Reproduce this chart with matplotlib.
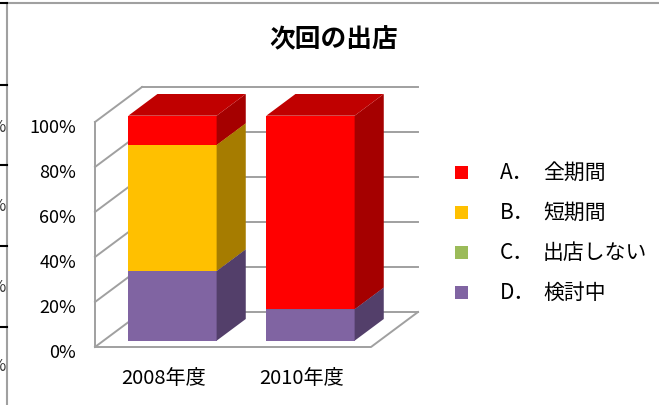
import numpy as np
import matplotlib.pyplot as plt
from matplotlib.patches import Polygon, Rectangle
from matplotlib.lines import Line2D

plt.rcParams['font.family'] = ['Noto Sans CJK JP', 'DejaVu Sans']

# data
years = ['2008年度', '2010年度']
letters = ['A．', 'B．', 'C．', 'D．']
names = ['全期間', '短期間', '出店しない', '検討中']
val_a = [13, 86]
val_b = [56, 0]
val_c = [0, 0]
val_d = [31, 14]
yticks = [0, 20, 40, 60, 80, 100]

front_cols = ['#FF0000', '#FFC000', '#9BBB59', '#8064A2']
side_cols = ['#A50000', '#A67C00', '#657A3A', '#533F6A']
top_cols = ['#C00000', '#CC9A00', '#7C9647', '#665083']
grid_col = '#A0A0A0'

W, H = 659, 406
fig = plt.figure(figsize=(W / 100, H / 100), dpi=100)
ax = fig.add_axes([0, 0, 1, 1])
ax.axis('off')

# data units: 1 category = 138 px, 1 % = 2.25 px; category 0 centre at px 164, 0% at px 348
ux, uy = 138.0, 2.25
ax.set_xlim(-164 / ux, (W - 164) / ux)
ax.set_ylim(-(H - 348) / uy, 348 / uy)

DX, DY = 47 / ux, 35 / uy   # depth vector (full depth)
bw = 0.64                   # bar width
d0, d1 = 0.18, 0.8          # bar depth range

def proj(x, y, d):
    return x + d * DX, y + d * DY

# walls
lw = 1.4
for v in yticks:
    x0, y0 = proj(-0.5, v, 1)
    x1, y1 = proj(1.5, v, 1)
    ax.plot([x0, x1], [y0, y1], color=grid_col, lw=lw, zorder=1)
    ax.plot([-0.5, x0], [v, y0], color=grid_col, lw=lw, zorder=1)
ax.plot([-0.5, -0.5], [0, 100], color=grid_col, lw=lw, zorder=1)
fx, fy = proj(1.5, 0, 1)
ax.plot([-0.5, 1.5, fx], [0, 0, fy], color=grid_col, lw=lw, zorder=1)

# bars (stack: D bottom, then C, B, A)
series = [val_d, val_c, val_b, val_a]
order = [3, 2, 1, 0]
for i in range(len(years)):
    bottom = 0
    for s, k in zip(series, order):
        h = s[i]
        if h <= 0:
            continue
        top = bottom + h
        xl, xr = i - bw / 2, i + bw / 2
        # front
        p = [proj(xl, bottom, d0), proj(xr, bottom, d0), proj(xr, top, d0), proj(xl, top, d0)]
        ax.add_patch(Polygon(p, closed=True, fc=front_cols[k], ec='none', zorder=3))
        # side
        p = [proj(xr, bottom, d0), proj(xr, bottom, d1), proj(xr, top, d1), proj(xr, top, d0)]
        ax.add_patch(Polygon(p, closed=True, fc=side_cols[k], ec='none', zorder=3))
        # top
        p = [proj(xl, top, d0), proj(xr, top, d0), proj(xr, top, d1), proj(xl, top, d1)]
        ax.add_patch(Polygon(p, closed=True, fc=top_cols[k], ec='none', zorder=3))
        bottom = top

# y tick labels
for v in yticks:
    ax.text(76 / ux - 164 / ux, v - 2.3, f'{v}%', ha='right', va='center', fontsize=13, color='#000000')

# category labels
for i, yr in enumerate(years):
    ax.text(i, -13.5, yr, ha='center', va='center', fontsize=14.5)

# title
fig.text(334 / W, 1 - 40 / H, '次回の出店', ha='center', va='center', fontsize=18.5, fontweight='bold')

# legend
for j in range(4):
    yc = 173 + 40 * j
    fig.patches.append(Rectangle((455 / W, 1 - (yc + 6.5) / H), 13 / W, 13 / H,
                                 transform=fig.transFigure, fc=front_cols[j], ec='none'))
    fig.text(500 / W, 1 - yc / H, letters[j], ha='left', va='center', fontsize=15)
    fig.text(543 / W, 1 - yc / H, names[j], ha='left', va='center', fontsize=15)

# frame of the chart area and cut-off neighbour on the left
fig.add_artist(Line2D([7 / W, 1], [1 - 4 / H, 1 - 4 / H], color=grid_col, lw=1.5, transform=fig.transFigure))
fig.add_artist(Line2D([7 / W, 7 / W], [0, 1 - 4 / H], color=grid_col, lw=1.5, transform=fig.transFigure))
for yy in [4, 86, 166, 247, 328]:
    fig.add_artist(Line2D([0, 7 / W], [1 - yy / H, 1 - yy / H], color='black', lw=1.5, transform=fig.transFigure))
for yy in [127, 207, 288, 367]:
    fig.text(5.5 / W, 1 - yy / H, '%', ha='right', va='center', fontsize=12, color='#333333')

fig.savefig('out.png', dpi=100)
